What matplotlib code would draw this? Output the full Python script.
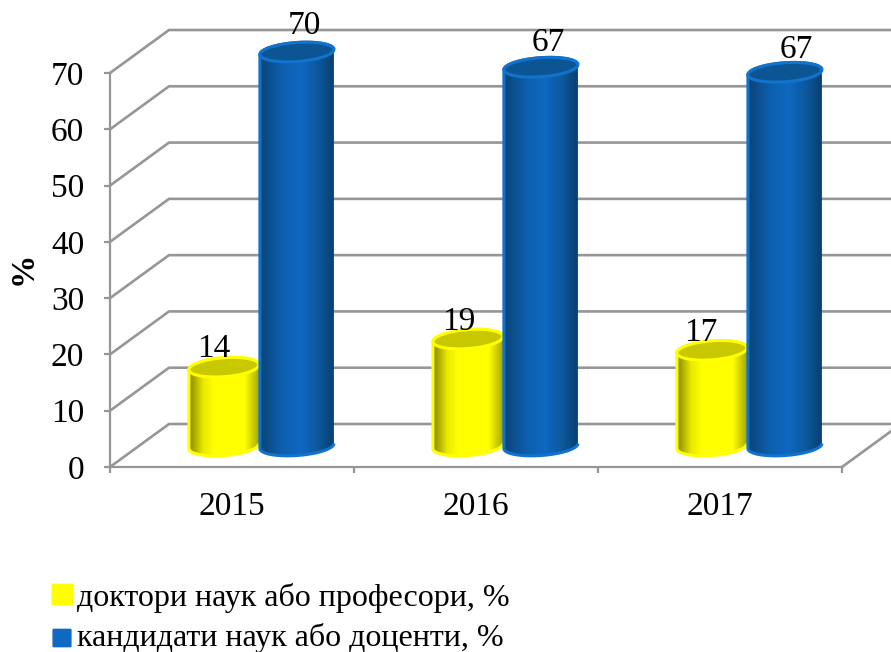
import numpy as np
import matplotlib
matplotlib.use("Agg")
import matplotlib.pyplot as plt
from matplotlib.colors import LinearSegmentedColormap
from matplotlib.patches import FancyBboxPatch, PathPatch
from matplotlib.path import Path

years = ["2015", "2016", "2017"]
doctors = [14, 19, 17]
candidates = [70, 67.3, 66.4]
doctors_labels = ["14", "19", "17"]
candidates_labels = ["70", "67", "67"]
y_ticks = [0, 10, 20, 30, 40, 50, 60, 70]
legend_names = ["доктори наук або професори, %", "кандидати наук або доценти, %"]

W, H = 891, 652
GRAY = "#969696"
plt.rcParams["font.family"] = ["Liberation Serif", "DejaVu Serif"]

fig = plt.figure(figsize=(W / 100, H / 100), dpi=100)
# front plane of the fake 3d box: x 110..842 px, y 467..73 px
ax = fig.add_axes([110 / W, 1 - 467 / H, 732 / W, 394 / H])
ax.set_xlim(0, 3)
ax.set_ylim(0, 70)
ax.patch.set_alpha(0)
for s in ["top", "right"]:
    ax.spines[s].set_visible(False)
for s in ["left", "bottom"]:
    ax.spines[s].set_color(GRAY)
    ax.spines[s].set_linewidth(1.6)

px_x = 3 / 732   # data units per pixel
px_y = 70 / 394
depth_x = 59 * px_x
depth_y = 43 * px_y

# walls
for v in y_ticks:
    ax.plot([0, depth_x, 3 + depth_x], [v, v + depth_y, v + depth_y],
            color=GRAY, lw=1.9, clip_on=False, zorder=1)
ax.plot([3, 3 + depth_x], [0, depth_y], color=GRAY, lw=1.9, clip_on=False, zorder=1)

ax.set_yticks(y_ticks)
ax.set_xticks([0, 1, 2, 3])
ax.set_xticklabels([])
ax.tick_params(axis="both", length=4, width=1.6, color=GRAY, labelsize=24)
ax.tick_params(axis="y", pad=14.5)
for lab in ax.get_yticklabels():
    lab.set_y(lab.get_position()[1])
for i, y in enumerate(years):
    ax.text(i + 0.5, -40 * px_y, y, ha="center", va="center", fontsize=24)
ax.set_ylabel("%", fontsize=24, fontweight="bold")
ax.yaxis.set_label_coords(-0.097, 0.505)


def cylinder(xc, value, half_w, cmap, top_color, edge, z):
    base = 21 * px_y
    top = base + value
    a = half_w
    b = 9.5 * px_y
    tilt = 2.5 * px_y   # ellipses lean up to the right
    t = np.linspace(0, np.pi, 60)
    xs = np.concatenate([xc + a * np.cos(t), xc - a * np.cos(t)])
    ys = np.concatenate([base - b * np.sin(t) + tilt * np.cos(t),
                         top + b * np.sin(t) - tilt * np.cos(t)])
    body = Path(np.column_stack([xs, ys]), closed=False)
    grad = np.linspace(0, 1, 256).reshape(1, -1)
    im = ax.imshow(grad, extent=[xc - a, xc + a, base - b - tilt, top + b + tilt],
                   aspect="auto", cmap=cmap, zorder=z, origin="lower")
    patch = PathPatch(body, facecolor="none", edgecolor=edge, lw=2.2, zorder=z + 0.1, clip_on=False)
    ax.add_patch(patch)
    im.set_clip_box(fig.bbox)
    im.set_clip_path(patch)
    te = np.linspace(0, 2 * np.pi, 120)
    ell = Path(np.column_stack([xc + a * np.cos(te),
                                top + b * np.sin(te) + tilt * np.cos(te)]))
    ax.add_patch(PathPatch(ell, facecolor=top_color, edgecolor=edge, lw=2.2,
                           zorder=z + 0.2, clip_on=False))


yellow_map = LinearSegmentedColormap.from_list(
    "y", [(0, "#858500"), (0.2, "#e8e800"), (0.35, "#ffff00"), (0.8, "#ffff00"), (1, "#a8a800")])
blue_map = LinearSegmentedColormap.from_list(
    "b", [(0, "#0a4478"), (0.3, "#0d5fae"), (0.55, "#0f68c2"), (0.8, "#0c5799"), (1, "#083f70")])

for i in range(3):
    cylinder(i + 0.467, doctors[i], 35 * px_x, yellow_map, "#c8c800", "#ffff00", 2 + i)
    cylinder(i + 0.766, candidates[i], 37 * px_x, blue_map, "#0b5594", "#1173cc", 2.5 + i)

# data labels sit above the cylinder tops
base_lift = 20 * px_y
label_dx = [[-10, -9, -11], [8, 7, 11]]
label_dy = [[19, 18, 19], [27, 25, 24]]
for i in range(3):
    ax.text(i + 0.467 + label_dx[0][i] * px_x, doctors[i] + base_lift + label_dy[0][i] * px_y,
            doctors_labels[i], ha="center", va="center", fontsize=24, zorder=10)
    ax.text(i + 0.766 + label_dx[1][i] * px_x, candidates[i] + base_lift + label_dy[1][i] * px_y,
            candidates_labels[i], ha="center", va="center", fontsize=24, zorder=10)
ax.set_xlim(0, 3)
ax.set_ylim(0, 70)

# legend drawn by hand, bottom left
swatches = [(53, 585, 19, 606, "#ffff00"), (54, 630, 16, 646, "#0f68c2")]
for (sx, sy, size, baseline, col), name in zip(swatches, legend_names):
    fig.add_artist(FancyBboxPatch((sx / W, 1 - (sy + size) / H), size / W, size / H,
                                  boxstyle="round,pad=0.001", facecolor=col, edgecolor=col,
                                  transform=fig.transFigure))
    fig.text(77 / W, 1 - baseline / H, name, fontsize=23, ha="left", va="baseline")

fig.savefig("out.png", dpi=100)
